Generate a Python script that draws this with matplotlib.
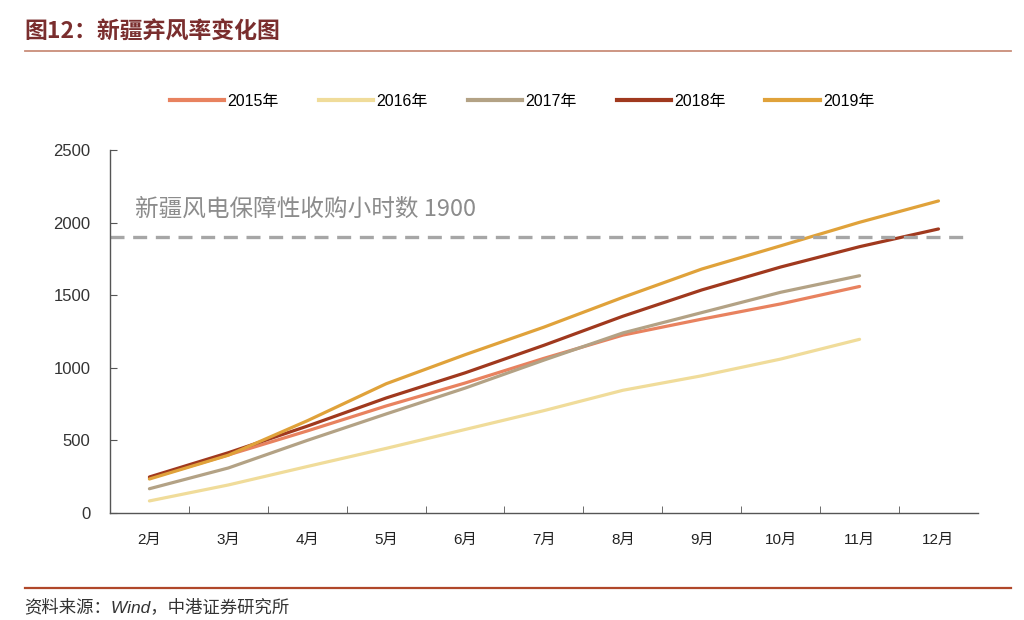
"""Xinjiang wind curtailment / utilisation hours chart."""
import matplotlib
matplotlib.use('Agg')
import matplotlib.pyplot as plt
from matplotlib.lines import Line2D
import numpy as np

plt.rcParams['font.family'] = ['Liberation Sans', 'Noto Sans CJK SC']

months = ['2月', '3月', '4月', '5月', '6月', '7月', '8月', '9月', '10月', '11月', '12月']
years = ['2015年', '2016年', '2017年', '2018年', '2019年']

hours_2015 = [240, 400, 565, 737, 895, 1065, 1225, 1335, 1440, 1560]
hours_2016 = [83, 193, 320, 445, 575, 705, 845, 945, 1060, 1196]
hours_2017 = [167, 310, 500, 682, 860, 1053, 1240, 1380, 1520, 1634]
hours_2018 = [248, 415, 598, 792, 965, 1155, 1355, 1536, 1694, 1834, 1956]
hours_2019 = [234, 398, 635, 890, 1090, 1280, 1485, 1680, 1840, 2002, 2149]
guarantee_hours = 1900

colors = ['#E8825F', '#F0DC9A', '#B3A285', '#A0391E', '#E0A23A']
series = [hours_2015, hours_2016, hours_2017, hours_2018, hours_2019]

fig = plt.figure(figsize=(10.24, 6.2), dpi=100)
ax = fig.add_axes([0.1074, 0.1726, 0.8476, 0.5855])

x = np.arange(len(months))
for vals, c in zip(series, colors):
    ax.plot(x[:len(vals)], vals, color=c, lw=2.3, solid_capstyle='round')

ax.axhline(guarantee_hours, xmin=0, xmax=0.988, color='#A6A6A6', lw=2.4,
           dashes=(4.2, 2.6))
ax.text(-0.18, 2095, '新疆风电保障性收购小时数 1900', fontsize=17,
        color='#8C8C8C', family=['Noto Sans CJK SC'], va='center')

ax.set_xlim(-0.5, 10.5)
ax.set_ylim(0, 2500)
ax.set_yticks(range(0, 2501, 500))
ax.set_xticks(x)
ax.set_xticklabels(months)
ax.set_xticks(np.arange(0.5, 10.5, 1), minor=True)
ax.tick_params(axis='x', which='major', length=0, pad=14, labelsize=11,
               labelcolor='#222222')
ax.tick_params(axis='x', which='minor', direction='in', length=5,
               color='#555555')
ax.tick_params(axis='y', direction='in', length=5, color='#555555',
               labelsize=12, labelcolor='#333333', pad=14)
for s in ['top', 'right']:
    ax.spines[s].set_visible(False)
for s in ['left', 'bottom']:
    ax.spines[s].set_color('#555555')
    ax.spines[s].set_linewidth(1.0)

handles = [Line2D([], [], color=c, lw=3) for c in colors]
fig.legend(handles, years, loc='center', bbox_to_anchor=(0.51, 0.837),
           ncol=5, frameon=False, fontsize=11.5, handlelength=3.4,
           columnspacing=2.5, handletextpad=0.2)

# header and footer
fig.text(0.024, 0.948, '图12：新疆弃风率变化图', fontsize=16.5, fontweight='bold',
         color='#7A2E2E', family=['Noto Sans CJK SC'], va='center')
fig.add_artist(Line2D([0.024, 0.987], [0.918, 0.918], color='#C98E7A', lw=1.3))
fig.add_artist(Line2D([0.024, 0.987], [0.052, 0.052], color='#B0482A', lw=1.6))
fig.text(0.024, 0.021, '资料来源：Wind，中港证券研究所', fontsize=12.5,
         fontstyle='italic', color='#333333', va='center')

fig.savefig('out.png', dpi=100)
